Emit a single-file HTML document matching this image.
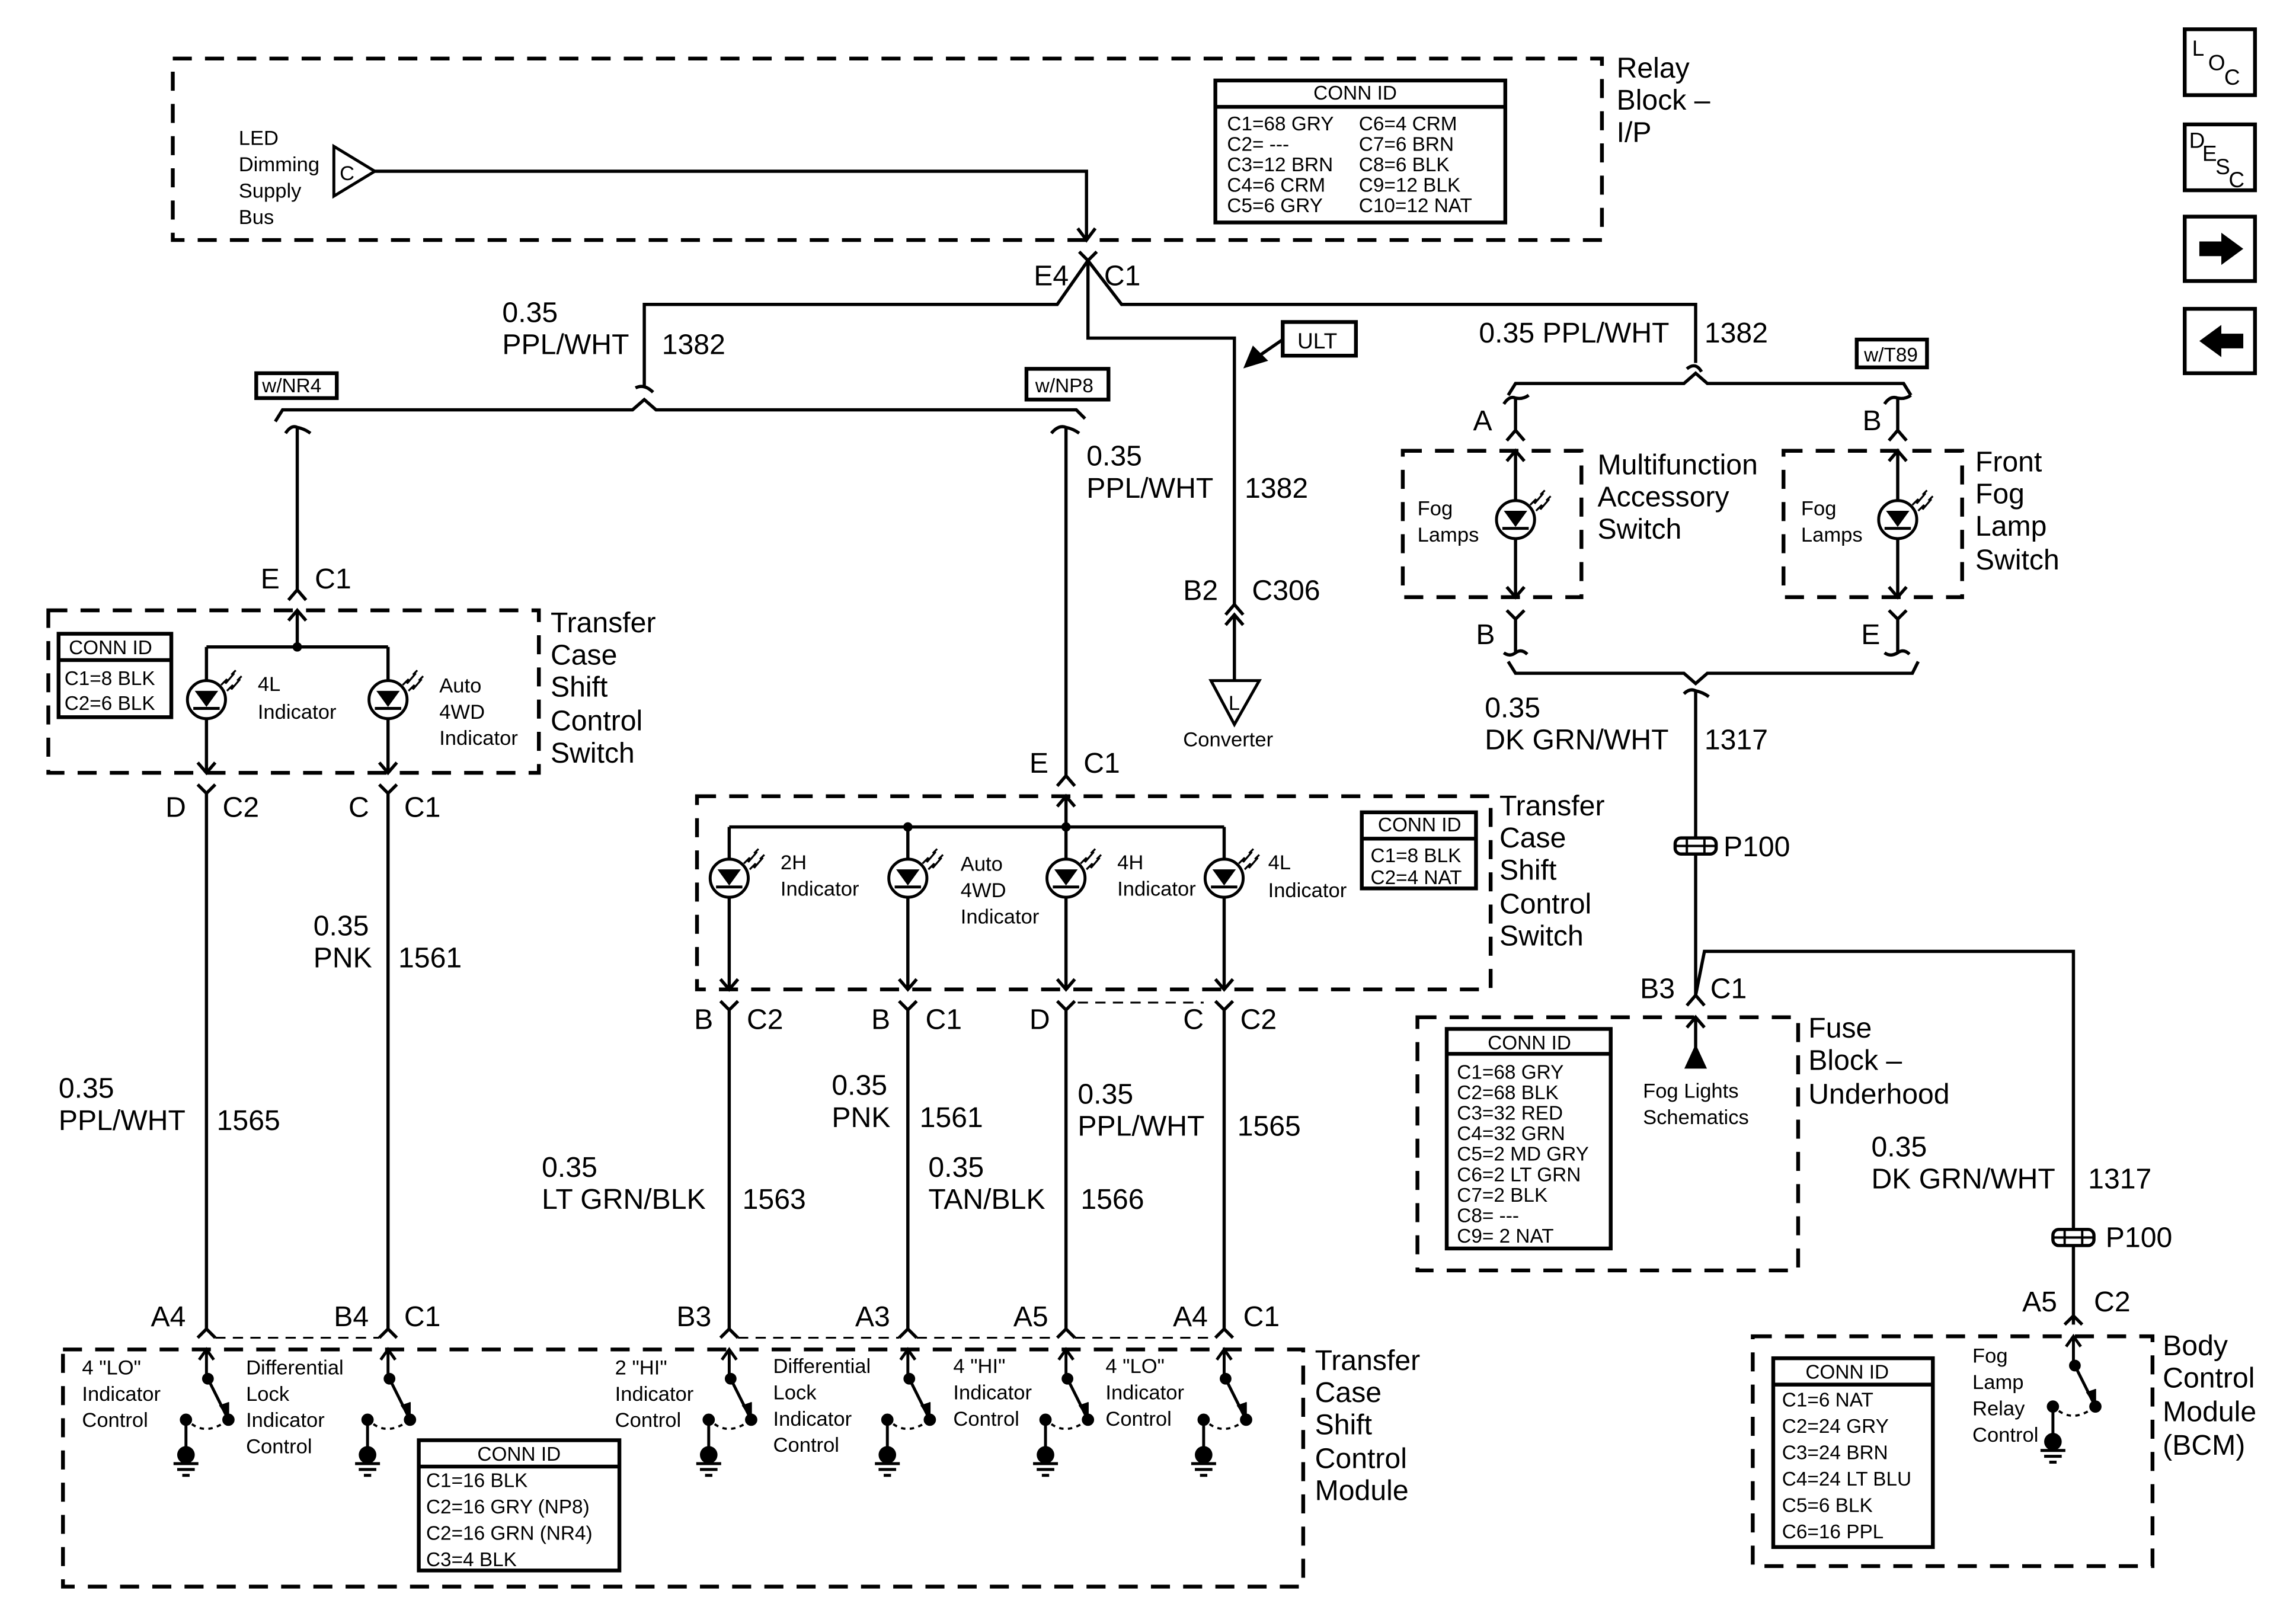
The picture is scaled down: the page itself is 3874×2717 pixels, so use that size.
<!DOCTYPE html>
<html><head><meta charset="utf-8"><style>
html,body{margin:0;padding:0;background:#fff}
svg{display:block}
text{font-family:"Liberation Sans",Arial,sans-serif;fill:#000}
.b{font-size:19.5px}
.s{font-size:14px}
.t{font-size:13.5px}
</style></head><body>
<svg width="3874" height="2717" viewBox="0 0 1568 1100" preserveAspectRatio="none" xmlns="http://www.w3.org/2000/svg">
<defs>
<g id="lamp">
<circle cx="0" cy="0" r="13" fill="#fff" stroke="#000" stroke-width="2"/>
<path d="M-8,-6 L8,-6 L0,5 Z" fill="#000"/>
<path d="M-9,6 L9,6" stroke="#000" stroke-width="2"/>
<path d="M10,-10 L14,-14 L13,-11 L19,-18 M17,-17 L20,-20 M14,-6 L18,-10 L17,-7 L23,-14 M21,-13 L24,-16" stroke="#000" stroke-width="1.3" fill="none"/>
</g>
<g id="sw" fill="none" stroke="#000" stroke-width="2">
<path d="M-5,7 L0,0 L5,7 M0,0 L0,20"/>
<circle cx="1" cy="20" r="3" fill="#000"/>
<path d="M1,20 L14,46"/>
<path d="M9,38 L15,47 L15,36" fill="#000" stroke-width="1"/>
<circle cx="15" cy="48" r="3.2" fill="#000"/>
<circle cx="-14" cy="48" r="3.2" fill="#000"/>
<path d="M-10,51 Q0,58 12,50" stroke-dasharray="3 3" stroke-width="1.5"/>
<path d="M-14,48 L-14,70"/>
<circle cx="-14" cy="72" r="6" fill="#000" stroke="none"/>
<path d="M-22.5,78 L-5.5,78 M-20,82 L-8,82 M-16.5,86 L-11.5,86"/>
</g>
<g id="ground" fill="none" stroke="#000" stroke-width="2">
<circle cx="0" cy="0" r="6" fill="#000" stroke="none"/>
<path d="M-8.5,6 L8.5,6 M-6,10 L6,10 M-2.5,14 L2.5,14"/>
</g>
</defs>
<g fill="none" stroke="#000" stroke-width="2.2">
<!-- dashed boxes -->
<g stroke-dasharray="13 9" stroke-width="2.6">
<rect x="118" y="40" width="976" height="124"/>
<rect x="33" y="417" width="335" height="111"/>
<rect x="476" y="544" width="542" height="132"/>
<rect x="43" y="922" width="847" height="162"/>
<rect x="958" y="308" width="122" height="100"/>
<rect x="1218" y="308" width="122" height="100"/>
<rect x="968" y="695" width="260" height="173"/>
<rect x="1197" y="913" width="273" height="157"/>
</g>
<!-- tables -->
<g stroke-width="2.6">
<rect x="830" y="55" width="198" height="97"/><path d="M830,73 L1028,73"/>
<rect x="40" y="433" width="77" height="57"/><path d="M40,451 L117,451"/>
<rect x="930" y="555" width="78" height="52"/><path d="M930,573 L1008,573"/>
<rect x="286" y="984" width="137" height="89"/><path d="M286,1002 L423,1002"/>
<rect x="988" y="703" width="112" height="150"/><path d="M988,720 L1100,720"/>
<rect x="1211" y="928" width="109" height="129"/><path d="M1211,946 L1320,946"/>
<rect x="175" y="255" width="55" height="17"/>
<rect x="701" y="252" width="56" height="21"/>
<rect x="876" y="220" width="50" height="23"/>
<rect x="1268" y="232" width="48" height="19"/>
</g>
<!-- relay block -->
<path d="M228,100 L256,117 L228,134 Z" stroke-width="2"/>
<path d="M256,117 L742,117 L742,164 M736,156 L742,164 L748,156"/>
<path d="M737,172 L743,178 L749,172 M743,178 L722,208 L440,208 L440,265 M743,178 L766,208 L1158,208 L1158,248 M743,178 L743,231 L843,231 L843,413"/>
<!-- ULT arrow -->
<path d="M876,232 L860,243"/>
<path d="M851,250 L856,238 L864,246 Z" fill="#000"/>
<!-- left bus -->
<path d="M434,265 Q440,262 446,268" />
<path d="M188,288 L193,280 L432,280 L440,273 L448,280 L735,280 L741,286"/>
<path d="M195,296 Q199,290 203,292 Q208,293 212,296 M203,292 L203,403 M197,410 L203,403 L209,410"/>
<path d="M718,296 Q723,290 728,292 Q733,293 737,296 M728,292 L728,530 M722,537 L728,530 L734,537"/>
<!-- left switch -->
<path d="M197,424 L203,417 L209,424 M203,417 L203,442 M141,442 L265,442 M141,442 L141,528 M265,442 L265,528 M135,521 L141,528 L147,521 M259,521 L265,528 L271,521"/>
<path d="M135,536 L141,542 L147,536 M141,542 L141,908 M259,536 L265,542 L271,536 M265,542 L265,908"/>
<!-- middle switch -->
<path d="M722,551 L728,544 L734,551 M728,544 L728,565 M498,565 L836,565"/>
<path d="M498,565 L498,676 M620,565 L620,676 M728,565 L728,676 M836,565 L836,676"/>
<path d="M492,669 L498,676 L504,669 M614,669 L620,676 L626,669 M722,669 L728,676 L734,669 M830,669 L836,676 L842,669"/>
<path d="M492,684 L498,690 L504,684 M498,690 L498,908 M614,684 L620,690 L626,684 M620,690 L620,908 M722,684 L728,690 L734,684 M728,690 L728,908 M830,684 L836,690 L842,684 M836,690 L836,908"/>
<path d="M736,685 L822,685" stroke-width="1.3" stroke-dasharray="7 5"/>
<!-- TCSCM top connectors -->
<path d="M135,914 L141,908 L147,914 M259,914 L265,908 L271,914 M492,914 L498,908 L504,914 M614,914 L620,908 L626,914 M722,914 L728,908 L734,914 M830,914 L836,908 L842,914"/>
<path d="M147,914 L259,914 M504,914 L614,914 M626,914 L722,914 M734,914 L830,914" stroke-width="1.3" stroke-dasharray="7 5"/>
<!-- C306 / converter -->
<path d="M837,420 L843,413 L849,420 M837,427 L843,420 L849,427 M843,420 L843,465"/>
<path d="M827,465 L860,465 L843,495 Z" stroke-width="2"/>
<!-- right bus -->
<path d="M1152,252 Q1158,247 1162,254"/>
<path d="M1030,270 L1035,262 L1150,262 L1158,255 L1166,262 L1300,262 L1305,270"/>
<path d="M1027,276 Q1031,270 1035,272 Q1040,273 1044,270 M1035,272 L1035,294 M1029,301 L1035,294 L1041,301"/>
<path d="M1287,276 Q1291,270 1296,272 Q1301,273 1305,270 M1296,272 L1296,294 M1290,301 L1296,294 L1302,301"/>
<path d="M1029,315 L1035,308 L1041,315 M1035,308 L1035,408 M1029,401 L1035,408 L1041,401"/>
<path d="M1290,315 L1296,308 L1302,315 M1296,308 L1296,408 M1290,401 L1296,408 L1302,401"/>
<path d="M1029,417 L1035,423 L1041,417 M1035,423 L1035,446 M1290,417 L1296,423 L1302,417 M1296,423 L1296,446"/>
<path d="M1027,446 Q1031,449 1035,446 Q1039,443 1043,447 M1287,446 Q1291,449 1296,446 Q1300,443 1304,447"/>
<path d="M1030,452 L1035,460 L1150,460 L1158,467 L1166,460 L1306,460 L1310,452"/>
<path d="M1150,474 Q1154,470 1158,472 Q1163,473 1167,476 M1158,472 L1158,680"/>
<path d="M1144,578 L1172,578" />
<rect x="1144" y="572.5" width="28" height="11" rx="4" fill="#fff"/>
<path d="M1144,578 L1172,578 M1152,573 L1152,583 M1164,573 L1164,583" stroke-width="1.6"/>
<path d="M1158,680 L1164,650 L1416,650 L1416,905 M1152,687 L1158,680 L1164,687"/>
<path d="M1152,702 L1158,695 L1164,702 M1158,695 L1158,720"/>
<path d="M1152,729 L1158,716 L1164,729 Z" fill="#000"/>
<rect x="1402" y="840" width="28" height="11" rx="4" fill="#fff"/>
<path d="M1402,845.5 L1430,845.5 M1410,840 L1410,851 M1422,840 L1422,851" stroke-width="1.6"/>
<path d="M1410,905 L1416,899 L1422,905"/>
<!-- icons -->
<g stroke-width="2.6">
<rect x="1492" y="20" width="48" height="45"/>
<rect x="1492" y="85" width="48" height="45"/>
<rect x="1492" y="148" width="48" height="44"/>
<rect x="1492" y="211" width="48" height="44"/>
</g>
</g>
<path d="M1502,165 L1517,165 L1517,159 L1532,170 L1517,181 L1517,175 L1502,175 Z" fill="#000"/>
<path d="M1532,228 L1517,228 L1517,222 L1502,233 L1517,244 L1517,238 L1532,238 Z" fill="#000"/>
<circle cx="203" cy="442" r="3.2" fill="#000"/>
<circle cx="620" cy="565" r="3.2" fill="#000"/>
<circle cx="728" cy="565" r="3.2" fill="#000"/>
<!-- lamps -->
<use href="#lamp" x="141" y="478"/>
<use href="#lamp" x="265" y="478"/>
<use href="#lamp" x="498" y="600"/>
<use href="#lamp" x="620" y="600"/>
<use href="#lamp" x="728" y="600"/>
<use href="#lamp" x="836" y="600"/>
<use href="#lamp" x="1035" y="355"/>
<use href="#lamp" x="1296" y="355"/>
<!-- switches -->
<use href="#sw" x="141" y="922"/>
<use href="#sw" x="265" y="922"/>
<use href="#sw" x="498" y="922"/>
<use href="#sw" x="620" y="922"/>
<use href="#sw" x="728" y="922"/>
<use href="#sw" x="836" y="922"/>
<use href="#sw" x="1416" y="913"/>

<!-- text -->
<g class="s">
<text x="163" y="99">LED</text><text x="163" y="117">Dimming</text><text x="163" y="135">Supply</text><text x="163" y="153">Bus</text>
<text x="232" y="123">C</text>
<text x="839" y="485">L</text>
<text x="808" y="510">Converter</text>
<text x="176" y="472">4L</text><text x="176" y="491">Indicator</text>
<text x="300" y="473">Auto</text><text x="300" y="491">4WD</text><text x="300" y="509">Indicator</text>
<text x="533" y="594">2H</text><text x="533" y="612">Indicator</text>
<text x="656" y="595">Auto</text><text x="656" y="613">4WD</text><text x="656" y="631">Indicator</text>
<text x="763" y="594">4H</text><text x="763" y="612">Indicator</text>
<text x="866" y="594">4L</text><text x="866" y="613">Indicator</text>
<text x="968" y="352">Fog</text><text x="968" y="370">Lamps</text>
<text x="1230" y="352">Fog</text><text x="1230" y="370">Lamps</text>
<text x="1122" y="750">Fog Lights</text><text x="1122" y="768">Schematics</text>
<text x="1347" y="931">Fog</text><text x="1347" y="949">Lamp</text><text x="1347" y="967">Relay</text><text x="1347" y="985">Control</text>
<text x="56" y="939">4 "LO"</text><text x="56" y="957">Indicator</text><text x="56" y="975">Control</text>
<text x="168" y="939">Differential</text><text x="168" y="957">Lock</text><text x="168" y="975">Indicator</text><text x="168" y="993">Control</text>
<text x="420" y="939">2 "HI"</text><text x="420" y="957">Indicator</text><text x="420" y="975">Control</text>
<text x="528" y="938">Differential</text><text x="528" y="956">Lock</text><text x="528" y="974">Indicator</text><text x="528" y="992">Control</text>
<text x="651" y="938">4 "HI"</text><text x="651" y="956">Indicator</text><text x="651" y="974">Control</text>
<text x="755" y="938">4 "LO"</text><text x="755" y="956">Indicator</text><text x="755" y="974">Control</text>
</g>
<g class="t">
<text x="897" y="68">CONN ID</text>
<text x="838" y="89">C1=68 GRY</text><text x="928" y="89">C6=4 CRM</text>
<text x="838" y="103">C2= ---</text><text x="928" y="103">C7=6 BRN</text>
<text x="838" y="117">C3=12 BRN</text><text x="928" y="117">C8=6 BLK</text>
<text x="838" y="131">C4=6 CRM</text><text x="928" y="131">C9=12 BLK</text>
<text x="838" y="145">C5=6 GRY</text><text x="928" y="145">C10=12 NAT</text>
<text x="47" y="447">CONN ID</text><text x="44" y="468">C1=8 BLK</text><text x="44" y="485">C2=6 BLK</text>
<text x="941" y="568">CONN ID</text><text x="936" y="589">C1=8 BLK</text><text x="936" y="604">C2=4 NAT</text>
<text x="326" y="998">CONN ID</text><text x="291" y="1016">C1=16 BLK</text><text x="291" y="1034">C2=16 GRY (NP8)</text><text x="291" y="1052">C2=16 GRN (NR4)</text><text x="291" y="1070">C3=4 BLK</text>
<text x="1016" y="717">CONN ID</text>
<text x="995" y="737">C1=68 GRY</text><text x="995" y="751">C2=68 BLK</text><text x="995" y="765">C3=32 RED</text><text x="995" y="779">C4=32 GRN</text><text x="995" y="793">C5=2 MD GRY</text><text x="995" y="807">C6=2 LT GRN</text><text x="995" y="821">C7=2 BLK</text><text x="995" y="835">C8= ---</text><text x="995" y="849">C9= 2 NAT</text>
<text x="1233" y="942">CONN ID</text>
<text x="1217" y="961">C1=6 NAT</text><text x="1217" y="979">C2=24 GRY</text><text x="1217" y="997">C3=24 BRN</text><text x="1217" y="1015">C4=24 LT BLU</text><text x="1217" y="1033">C5=6 BLK</text><text x="1217" y="1051">C6=16 PPL</text>
<text x="179" y="268">w/NR4</text><text x="707" y="268">w/NP8</text><text x="1273" y="247">w/T89</text>
</g>
<text x="886" y="238" style="font-size:15px">ULT</text>
<g class="b">
<text x="1104" y="53">Relay</text><text x="1104" y="75">Block –</text><text x="1104" y="97">I/P</text>
<text x="706" y="195">E4</text><text x="754" y="195">C1</text>
<text x="343" y="220">0.35</text><text x="343" y="242">PPL/WHT</text><text x="452" y="242">1382</text>
<text x="742" y="318">0.35</text><text x="742" y="340">PPL/WHT</text><text x="850" y="340">1382</text>
<text x="1010" y="234">0.35 PPL/WHT</text><text x="1164" y="234">1382</text>
<text x="808" y="410">B2</text><text x="855" y="410">C306</text>
<text x="178" y="402">E</text><text x="215" y="402">C1</text>
<text x="376" y="432">Transfer</text><text x="376" y="454">Case</text><text x="376" y="476">Shift</text><text x="376" y="499">Control</text><text x="376" y="521">Switch</text>
<text x="113" y="558">D</text><text x="152" y="558">C2</text><text x="238" y="558">C</text><text x="276" y="558">C1</text>
<text x="703" y="528">E</text><text x="740" y="528">C1</text>
<text x="1024" y="557">Transfer</text><text x="1024" y="579">Case</text><text x="1024" y="601">Shift</text><text x="1024" y="624">Control</text><text x="1024" y="646">Switch</text>
<text x="474" y="703">B</text><text x="510" y="703">C2</text><text x="595" y="703">B</text><text x="632" y="703">C1</text><text x="703" y="703">D</text><text x="808" y="703">C</text><text x="847" y="703">C2</text>
<text x="214" y="639">0.35</text><text x="214" y="661">PNK</text><text x="272" y="661">1561</text>
<text x="40" y="750">0.35</text><text x="40" y="772">PPL/WHT</text><text x="148" y="772">1565</text>
<text x="370" y="804">0.35</text><text x="370" y="826">LT GRN/BLK</text><text x="507" y="826">1563</text>
<text x="568" y="748">0.35</text><text x="568" y="770">PNK</text><text x="628" y="770">1561</text>
<text x="634" y="804">0.35</text><text x="634" y="826">TAN/BLK</text><text x="738" y="826">1566</text>
<text x="736" y="754">0.35</text><text x="736" y="776">PPL/WHT</text><text x="845" y="776">1565</text>
<text x="103" y="906">A4</text><text x="228" y="906">B4</text><text x="276" y="906">C1</text><text x="462" y="906">B3</text><text x="584" y="906">A3</text><text x="692" y="906">A5</text><text x="801" y="906">A4</text><text x="849" y="906">C1</text>
<text x="898" y="936">Transfer</text><text x="898" y="958">Case</text><text x="898" y="980">Shift</text><text x="898" y="1003">Control</text><text x="898" y="1025">Module</text>
<text x="1006" y="294">A</text><text x="1272" y="294">B</text><text x="1008" y="440">B</text><text x="1271" y="440">E</text>
<text x="1091" y="324">Multifunction</text><text x="1091" y="346">Accessory</text><text x="1091" y="368">Switch</text>
<text x="1349" y="322">Front</text><text x="1349" y="344">Fog</text><text x="1349" y="366">Lamp</text><text x="1349" y="389">Switch</text>
<text x="1014" y="490">0.35</text><text x="1014" y="512">DK GRN/WHT</text><text x="1164" y="512">1317</text>
<text x="1177" y="585">P100</text>
<text x="1120" y="682">B3</text><text x="1168" y="682">C1</text>
<text x="1235" y="709">Fuse</text><text x="1235" y="731">Block –</text><text x="1235" y="754">Underhood</text>
<text x="1278" y="790">0.35</text><text x="1278" y="812">DK GRN/WHT</text><text x="1426" y="812">1317</text>
<text x="1438" y="852">P100</text>
<text x="1381" y="896">A5</text><text x="1430" y="896">C2</text>
<text x="1477" y="926">Body</text><text x="1477" y="948">Control</text><text x="1477" y="971">Module</text><text x="1477" y="994">(BCM)</text>
</g>
<g style="font-size:15px">
<text x="1497" y="38">L</text><text x="1508" y="48">O</text><text x="1519" y="58">C</text>
<text x="1495" y="101">D</text><text x="1504" y="110">E</text><text x="1513" y="119">S</text><text x="1522" y="128">C</text>
</g>
</svg>
</body></html>
